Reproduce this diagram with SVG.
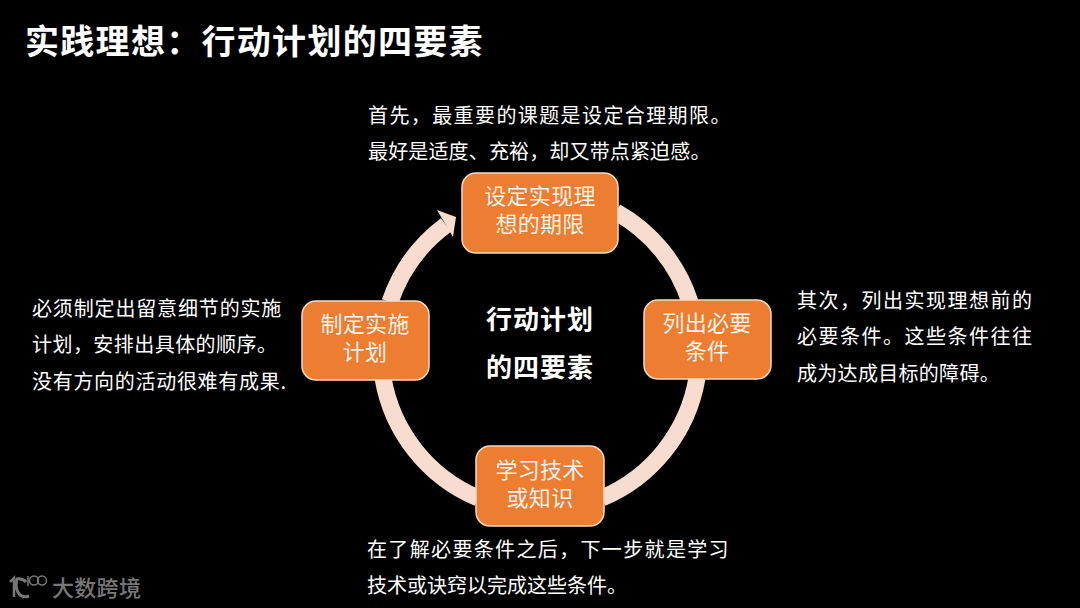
<svg xmlns="http://www.w3.org/2000/svg" width="1080" height="608" viewBox="0 0 1080 608">
<style>
text{font-family:"Noto Sans CJK SC","Noto Sans",sans-serif;fill:#fff}
.b{font-size:20px}
.n{font-size:22px;text-anchor:middle;fill:#fdf3ea;letter-spacing:.3px}
.c{font-size:26px;font-weight:700;text-anchor:middle;letter-spacing:1px}
.box{fill:#ed7d31;stroke:#fbd9c0;stroke-width:1.5}
.ring{fill:none;stroke:#f8dcd0;stroke-width:17}
</style>
<rect width="1080" height="608" fill="#000"/>
<text x="25" y="54" font-size="34" font-weight="700" letter-spacing="1.3">实践理想：行动计划的四要素</text>
<g id="connectors">
<path class="ring" d="M383 378A159 159 0 0 0 478 498"/>
<path class="ring" d="M602 498A159 159 0 0 0 697 378"/>
<path class="ring" d="M690 302A159 159 0 0 0 616 212"/>
<path class="ring" d="M390 302A159 159 0 0 1 446 225"/>
<path d="M437 210L456 217L453 237Z" fill="#f8dcd0"/>
</g>
<g id="node-top"><rect class="box" x="462" y="173" width="156" height="80" rx="14"/><text class="n" x="540" y="204">设定实现理</text><text class="n" x="540" y="232">想的期限</text></g>
<g id="node-right"><rect class="box" x="644" y="300" width="127" height="79" rx="14"/><text class="n" x="707" y="331">列出必要</text><text class="n" x="707" y="359">条件</text></g>
<g id="node-bottom"><rect class="box" x="476" y="446" width="128" height="80" rx="14"/><text class="n" x="540" y="478">学习技术</text><text class="n" x="540" y="506">或知识</text></g>
<g id="node-left"><rect class="box" x="302" y="301" width="127" height="79" rx="14"/><text class="n" x="365" y="332">制定实施</text><text class="n" x="365" y="360">计划</text></g>
<g id="center"><text class="c" x="540" y="329">行动计划</text><text class="c" x="540" y="377">的四要素</text></g>
<g id="notes">
<text class="b" x="368" y="123" letter-spacing="1.4">首先，最重要的课题是设定合理期限。</text>
<text class="b" x="368" y="159" letter-spacing=".15">最好是适度、充裕，却又带点紧迫感。</text>
<text class="b" x="797" y="308" letter-spacing="1.5">其次，列出实现理想前的</text>
<text class="b" x="797" y="344" letter-spacing="1.5">必要条件。这些条件往往</text>
<text class="b" x="797" y="381" letter-spacing=".3">成为达成目标的障碍。</text>
<text class="b" x="32" y="316" letter-spacing=".85">必须制定出留意细节的实施</text>
<text class="b" x="32" y="352" letter-spacing=".45">计划，安排出具体的顺序。</text>
<text class="b" x="32" y="389" letter-spacing=".7">没有方向的活动很难有成果.</text>
<text class="b" x="367" y="557" letter-spacing="1.35">在了解必要条件之后，下一步就是学习</text>
<text class="b" x="367" y="593">技术或诀窍以完成这些条件。</text>
</g>
<g id="logo" fill="none" stroke="#777">
<path d="M10 582L14 578V597" stroke-width="2.5"/>
<path d="M26 582A10 10 0 0 0 17 579Q14 588 20 595Q24 598 29 596" stroke-width="3"/>
<path d="M28 576V586" stroke-width="1.5"/>
<circle cx="34" cy="580.500" r="4.500" stroke-width="1.500"/>
<circle cx="42" cy="580.500" r="4.500" stroke-width="1.500"/>
<text x="52" y="596" font-size="22" font-weight="500" letter-spacing=".3" style="fill:#777;stroke:none">大数跨境</text>
</g>
</svg>
